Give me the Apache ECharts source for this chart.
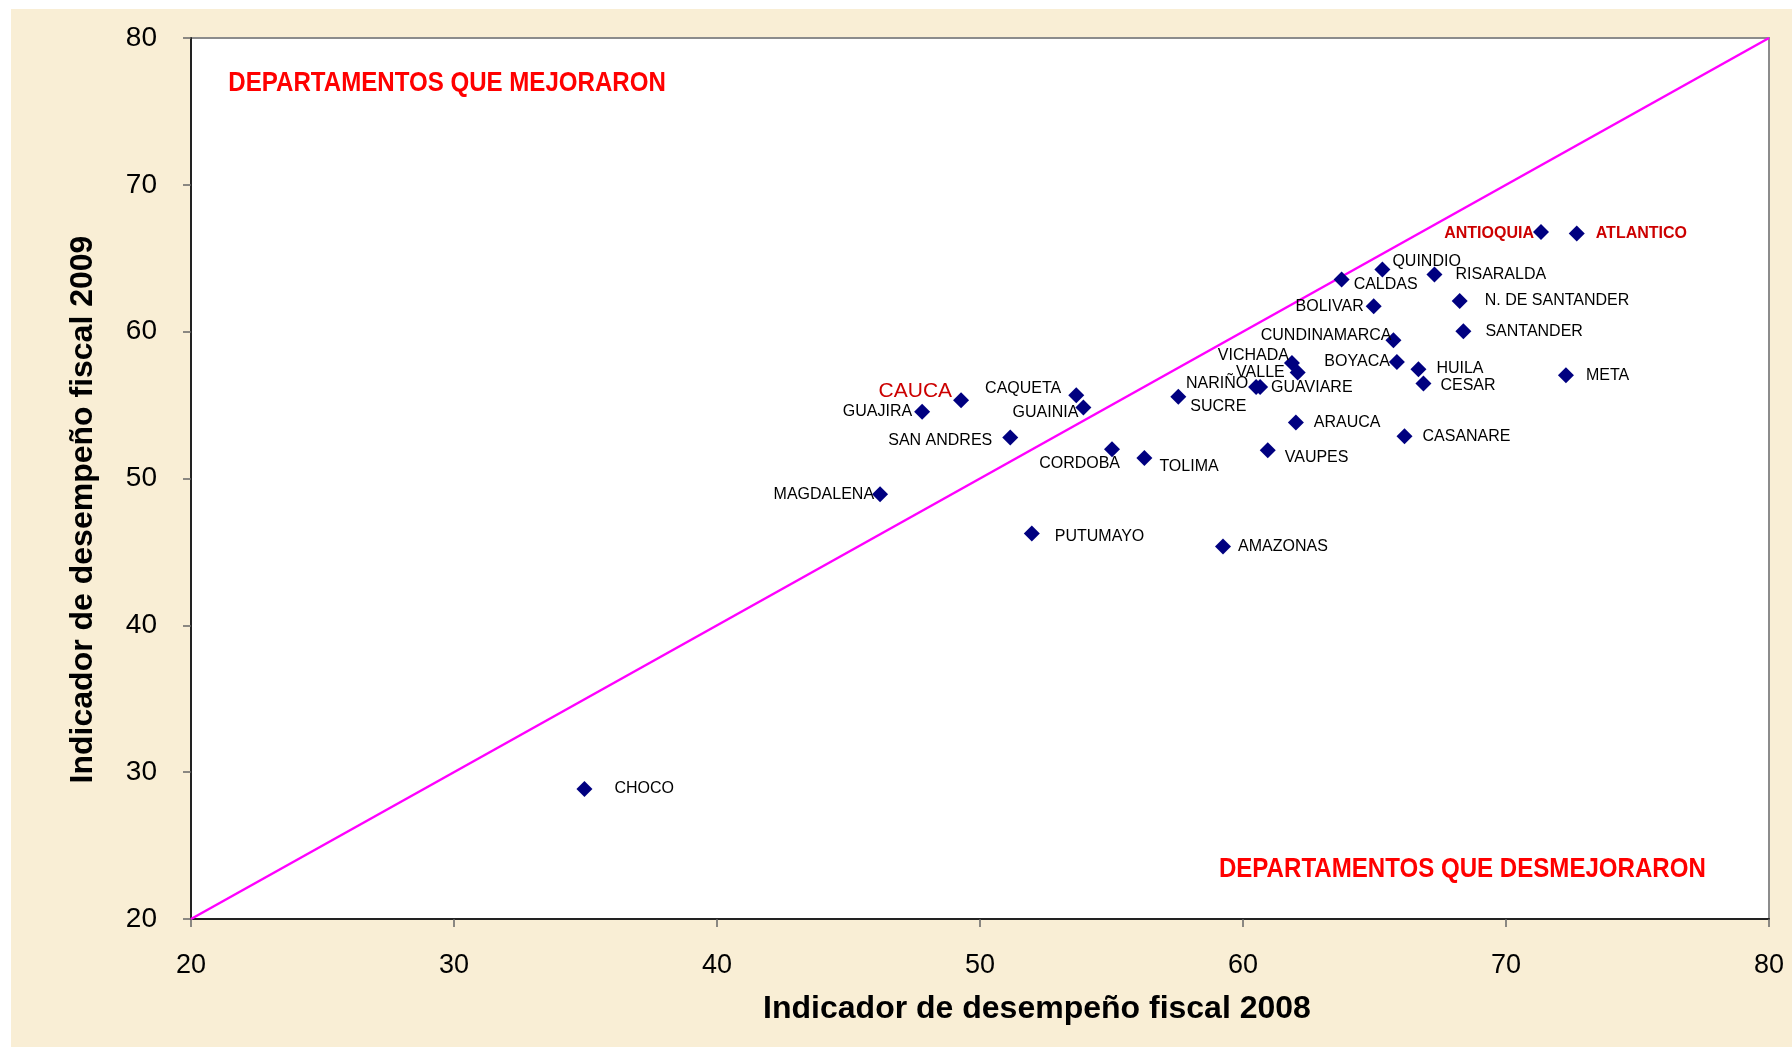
<!DOCTYPE html>
<html>
<head>
<meta charset="utf-8">
<script src="https://cdn.jsdelivr.net/npm/echarts@6/dist/echarts.min.js"></script>
<style>
html,body{margin:0;padding:0;background:#fff;}
#chart{width:1792px;height:1047px;}
</style>
</head>
<body>
<div id="chart"></div>
<script>
// ---- data ----
const departamentos = ['CHOCO','MAGDALENA','GUAJIRA','CAUCA','SAN ANDRES','CAQUETA','GUAINIA','CORDOBA','TOLIMA','PUTUMAYO','AMAZONAS','SUCRE','NARIÑO','GUAVIARE','VICHADA','VALLE','ARAUCA','VAUPES','CASANARE','CALDAS','QUINDIO','RISARALDA','BOLIVAR','CUNDINAMARCA','BOYACA','HUILA','CESAR','N. DE SANTANDER','SANTANDER','META','ANTIOQUIA','ATLANTICO'];
const fiscal2008 = [34.96,46.20,47.80,49.28,51.15,53.66,53.93,55.02,56.25,51.97,59.24,57.54,60.50,60.65,61.86,62.08,62.01,60.94,66.14,63.75,65.30,67.28,64.97,65.72,65.85,66.67,66.86,68.24,68.38,72.28,71.33,72.69];
const fiscal2009 = [28.85,48.93,54.54,55.33,52.79,55.67,54.83,52.00,51.40,46.26,45.37,55.56,56.24,56.24,57.87,57.22,53.81,51.93,52.88,63.55,64.23,63.89,61.73,59.42,57.94,57.44,56.47,62.09,60.03,57.03,66.79,66.68];
const diagonal = [[20,20],[80,80]];
const axisMin = 20, axisMax = 80, axisStep = 10;
const xTitle = 'Indicador de desempeño fiscal 2008';
const yTitle = 'Indicador de desempeño fiscal 2009';
const textMejoraron = 'DEPARTAMENTOS QUE MEJORARON';
const textDesmejoraron = 'DEPARTAMENTOS QUE DESMEJORARON';

// ---- label layout (side, gap from point centre in px, vertical shift in px) ----
const labelLayoutTable = {
  'CHOCO':['R',30,0],'MAGDALENA':['L',6,0],'GUAJIRA':['L',10,0],'CAUCA':['L',9,-9],
  'SAN ANDRES':['L',18,3],'CAQUETA':['L',15,-7],'GUAINIA':['L',5,5],'CORDOBA':['L',-8,14],
  'TOLIMA':['R',15,9],'PUTUMAYO':['R',23,3],'AMAZONAS':['R',15,0],'SUCRE':['R',12,10],
  'NARIÑO':['L',8,-3],'GUAVIARE':['R',11,1],'VICHADA':['L',3,-7],'VALLE':['L',13,0],
  'ARAUCA':['R',18,0],'VAUPES':['R',17,7],'CASANARE':['R',18,0],'CALDAS':['R',12,5],
  'QUINDIO':['R',10,-8],'RISARALDA':['R',21,0],'BOLIVAR':['L',10,0],'CUNDINAMARCA':['L',2,-5],
  'BOYACA':['L',7,0],'HUILA':['R',18,-1],'CESAR':['R',17,2],'N. DE SANTANDER':['R',25,0],
  'SANTANDER':['R',22,0],'META':['R',20,0],'ANTIOQUIA':['L',7,2],'ATLANTICO':['R',19,0]
};
const FONT = '"Liberation Sans", Arial, sans-serif';
const SYM = 16;
const specialStyle = {
  'CAUCA': {color:'#cc0000', fontSize:21, fontWeight:'normal'},
  'ANTIOQUIA': {color:'#cc0000', fontSize:16, fontWeight:'bold'},
  'ATLANTICO': {color:'#cc0000', fontSize:16, fontWeight:'bold'}
};

const points = departamentos.map((name, i) => {
  const side = labelLayoutTable[name][0];
  const sp = specialStyle[name] || {};
  return {
    name: name,
    value: [fiscal2008[i], fiscal2009[i]],
    label: {
      show: true,
      formatter: name,
      position: side === 'R' ? 'right' : 'left',
      distance: 0,
      color: sp.color || '#000',
      fontSize: sp.fontSize || 16,
      fontWeight: sp.fontWeight || 'normal',
      fontFamily: FONT
    }
  };
});

const chart = echarts.init(document.getElementById('chart'));
const GRID = {left:191, top:38, right:23, bottom:128};
const BG = {type:'rect', z:-10, silent:true, shape:{x:11, y:9, width:1792, height:1047}, style:{fill:'#f9eed5'}};
chart.setOption({
  backgroundColor: '#ffffff',
  animation: false,
  graphic: [BG],
  grid: Object.assign({show:true, backgroundColor:'#ffffff', borderColor:'#8c8c8c', borderWidth:2}, GRID),
  xAxis: {
    type:'value', min:axisMin, max:axisMax, interval:axisStep,
    splitLine:{show:false},
    axisLine:{show:true, onZero:false, lineStyle:{color:'#222', width:2}},
    axisTick:{show:true, inside:false, length:8, lineStyle:{color:'#666', width:1.5}},
    axisLabel:{color:'#000', fontSize:27, fontFamily:FONT, margin:33},
    name: xTitle, nameLocation:'middle', nameGap:74,
    nameTextStyle:{color:'#000', fontSize:32, fontWeight:'bold', fontFamily:FONT, padding:[0,0,0,114]}
  },
  yAxis: {
    type:'value', min:axisMin, max:axisMax, interval:axisStep,
    splitLine:{show:false},
    axisLine:{show:true, onZero:false, lineStyle:{color:'#222', width:2}},
    axisTick:{show:true, inside:false, length:8, lineStyle:{color:'#666', width:1.5}},
    axisLabel:{color:'#000', fontSize:28, fontFamily:FONT, margin:34},
    name: yTitle, nameLocation:'middle', nameGap:92,
    nameTextStyle:{color:'#000', fontSize:32, fontWeight:'bold', fontFamily:FONT, padding:[0,62,0,0]}
  },
  series: [
    {
      type:'line', data:diagonal, showSymbol:false, symbol:'none', silent:true, z:1,
      lineStyle:{color:'#ff00ff', width:2.5}
    },
    {
      type:'scatter', data:points, symbol:'diamond', symbolSize:SYM, z:3,
      itemStyle:{color:'#000080', opacity:1},
      emphasis:{disabled:true},
      labelLayout: function (params) {
        const lay = labelLayoutTable[departamentos[params.dataIndex]];
        const half = SYM / 2;
        const gap = lay[1];
        return {
          dx: lay[0] === 'R' ? gap - half : half - gap,
          dy: lay[2],
          hideOverlap: false
        };
      }
    }
  ]
});

// annotation texts anchored in data space
const annotMejoraron = [21.42, 76.92];
const annotDesmejoraron = [77.6, 23.41];
const pA = chart.convertToPixel({gridIndex:0}, annotMejoraron);
const pB = chart.convertToPixel({gridIndex:0}, annotDesmejoraron);
chart.setOption({
  graphic: [
    BG,
    {type:'text', z:10, x:pA[0], y:pA[1], scaleX:0.86,
      style:{text:textMejoraron, fill:'#ff0000', font:'bold 28px ' + FONT, textAlign:'left', textVerticalAlign:'middle'}},
    {type:'text', z:10, x:pB[0], y:pB[1], scaleX:0.86,
      style:{text:textDesmejoraron, fill:'#ff0000', font:'bold 28px ' + FONT, textAlign:'right', textVerticalAlign:'middle'}}
  ]
});
</script>
</body>
</html>
